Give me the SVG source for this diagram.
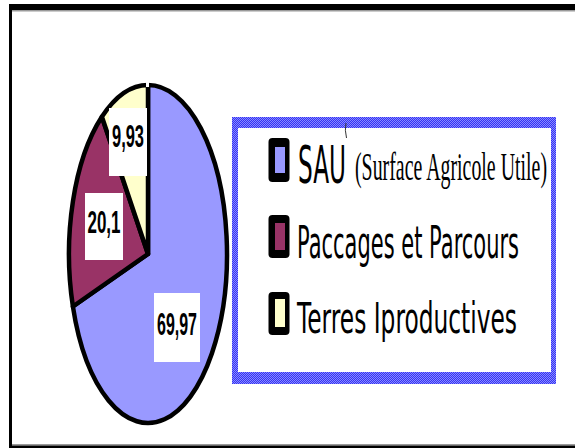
<svg xmlns="http://www.w3.org/2000/svg" width="575" height="448" viewBox="0 0 575 448">
<defs>
<pattern id="dots" width="2" height="2" patternUnits="userSpaceOnUse">
<rect width="2" height="2" fill="#3434f4"/>
<rect width="1" height="1" fill="#8a8aff"/>
<rect x="1" y="1" width="1" height="1" fill="#8a8aff"/>
</pattern>
<style>
.slice{stroke:#000;stroke-width:4.5;stroke-linejoin:round}
.lbl{fill:#fff}
.num{font-family:"Liberation Sans",Arial,sans-serif;font-weight:bold;fill:#000;text-anchor:middle}
.leg{font-family:"DejaVu Sans","Noto Sans",sans-serif;fill:#000}
.serif{font-family:"Liberation Serif","Times New Roman",serif;fill:#000}
.mk{fill:#000}
</style>
</defs>
<rect width="575" height="448" fill="#fff"/>
<g id="frame">
<rect x="9" y="4" width="566" height="6" fill="#000"/>
<rect x="12" y="10" width="563" height="1.5" fill="#9a9a9a"/>
<rect x="9" y="4" width="3" height="444" fill="#000"/>
<rect x="12" y="444" width="563" height="1.5" fill="#9a9a9a"/>
<rect x="9" y="445.5" width="566" height="2.5" fill="#000"/>
</g>
<g id="pie">
<path id="slice-sau" class="slice" fill="#9999ff" d="M148,254 L148,85 A79,169 0 1,1 72.9,306.5 Z"/>
<path id="slice-paccages" class="slice" fill="#993366" d="M148,254 L72.9,306.5 A79,169 0 0,1 101.9,116.8 Z"/>
<path id="slice-terres" class="slice" fill="#ffffcc" d="M148,254 L101.9,116.8 A79,169 0 0,1 148,85 Z"/>
<rect x="146" y="80" width="3" height="7" fill="#fff"/>
</g>
<g id="label-terres">
<rect class="lbl" x="109" y="108" width="38" height="68"/>
<text class="num" transform="translate(128,147) scale(1,1.87)" font-size="16.4" textLength="32" lengthAdjust="spacingAndGlyphs">9,93</text>
</g>
<g id="label-paccages">
<rect class="lbl" x="85" y="193" width="38" height="67"/>
<text class="num" transform="translate(104,233) scale(1,1.89)" font-size="17" textLength="33" lengthAdjust="spacingAndGlyphs">20,1</text>
</g>
<g id="label-sau">
<rect class="lbl" x="154" y="293" width="46" height="69"/>
<text class="num" transform="translate(177,335) scale(1,2)" font-size="16" textLength="40" lengthAdjust="spacingAndGlyphs">69,97</text>
</g>
<g id="legend">
<path fill="url(#dots)" fill-rule="evenodd" d="M232,117 H556 V384 H232 Z M238,128 V372 H551 V128 Z"/>
<rect x="238" y="128" width="313" height="244" fill="#fff"/>
<g id="legend-sau">
<rect class="mk" x="268.5" y="138" width="21" height="44" rx="4"/>
<rect x="275" y="147" width="10" height="26" fill="#9999ff"/>
<text class="leg" transform="translate(298,183) scale(1,2.22)" font-size="23.4" textLength="48" lengthAdjust="spacingAndGlyphs">SAU</text>
<text class="serif" transform="translate(355,180) scale(1,2.06)" font-size="19.75" textLength="192" lengthAdjust="spacingAndGlyphs">(Surface Agricole Utile)</text>
<path d="M346,123 Q344.5,130 346.5,138" fill="none" stroke="#333" stroke-width="1"/>
</g>
<g id="legend-paccages">
<rect class="mk" x="268.5" y="215" width="21" height="43" rx="4"/>
<rect x="275" y="223" width="10" height="27" fill="#993366"/>
<text class="leg" transform="translate(297,258) scale(1,2.18)" font-size="20.75" textLength="222" lengthAdjust="spacingAndGlyphs">Paccages et Parcours</text>
</g>
<g id="legend-terres">
<rect class="mk" x="268.5" y="292" width="21" height="43" rx="4"/>
<rect x="275" y="299" width="10" height="28" fill="#ffffcc"/>
<text class="leg" transform="translate(297,333) scale(1,1.87)" font-size="22.7" textLength="220" lengthAdjust="spacingAndGlyphs">Terres Iproductives</text>
</g>
</g>
</svg>
